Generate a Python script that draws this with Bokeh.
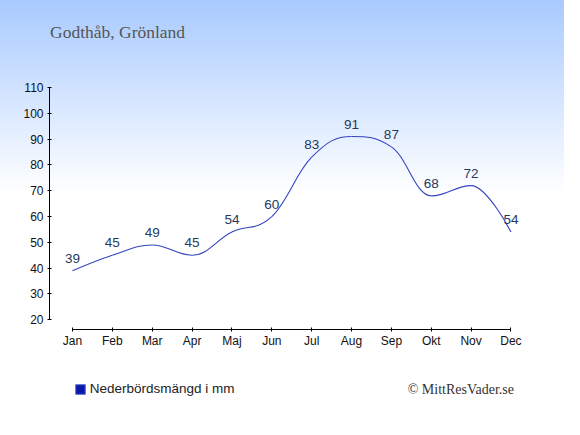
from bokeh.plotting import figure
from bokeh.layouts import column
from bokeh.models import (Range1d, FixedTicker, Label, Legend, LegendItem,
                          ColumnDataSource, InlineStyleSheet)
from bokeh.core.properties import value
from bokeh.embed import file_html
from bokeh.resources import INLINE

months = ["Jan", "Feb", "Mar", "Apr", "Maj", "Jun", "Jul", "Aug", "Sep", "Okt", "Nov", "Dec"]
precip = [39, 45, 49, 45, 54, 60, 83, 91, 87, 68, 72, 54]
y_ticks = [20, 30, 40, 50, 60, 70, 80, 90, 100, 110]
title_text = "Godthåb, Grönland"
legend_text = "Nederbördsmängd i mm"
credit_text = "© MittResVader.se"

xs = list(range(len(months)))
W = 564
H_HEAD, H_MAIN, H_FOOT = 60, 300, 59
BL, BR = 49, 34          # shared left / right borders (frames are aligned in a column)
FR = W - BR              # frame right edge in pixels


# Spline control points (Highcharts-style smoothing) computed from the data
def spline_segments(x, y, smoothing=1.5):
    n = len(x)
    lcx, lcy, rcx, rcy = list(x), list(y), list(x), list(y)
    denom = smoothing + 1
    for i in range(1, n - 1):
        px, py = x[i], y[i]
        lx, ly = x[i - 1], y[i - 1]
        nx, ny = x[i + 1], y[i + 1]
        a_x = (smoothing * px + lx) / denom
        a_y = (smoothing * py + ly) / denom
        b_x = (smoothing * px + nx) / denom
        b_y = (smoothing * py + ny) / denom
        if b_x != a_x:
            corr = ((b_y - a_y) * (b_x - px)) / (b_x - a_x) + py - b_y
            a_y += corr
            b_y += corr
        if a_y > ly and a_y > py:
            a_y = max(ly, py)
            b_y = 2 * py - a_y
        elif a_y < ly and a_y < py:
            a_y = min(ly, py)
            b_y = 2 * py - a_y
        if b_y > ny and b_y > py:
            b_y = max(ny, py)
            a_y = 2 * py - b_y
        elif b_y < ny and b_y < py:
            b_y = min(ny, py)
            a_y = 2 * py - b_y
        lcx[i], lcy[i], rcx[i], rcy[i] = a_x, a_y, b_x, b_y
    seg = dict(x0=[], y0=[], x1=[], y1=[], cx0=[], cy0=[], cx1=[], cy1=[])
    for i in range(1, n):
        seg["x0"].append(x[i - 1]); seg["y0"].append(y[i - 1])
        seg["x1"].append(x[i]); seg["y1"].append(y[i])
        seg["cx0"].append(rcx[i - 1]); seg["cy0"].append(rcy[i - 1])
        seg["cx1"].append(lcx[i]); seg["cy1"].append(lcy[i])
    return seg


def plain(fig):
    fig.background_fill_alpha = 0
    fig.border_fill_alpha = 0
    fig.outline_line_color = None
    fig.grid.visible = False
    return fig


def strip(h):
    # a panel whose data coordinates equal pixel coordinates of the page
    return plain(figure(width=W, height=h, output_backend="svg", toolbar_location=None,
                        x_range=Range1d(BL, FR), y_range=Range1d(0, h),
                        x_axis_type=None, y_axis_type=None,
                        min_border_left=BL, min_border_right=BR,
                        min_border_top=0, min_border_bottom=0))


# ---- header with title ----
head = strip(H_HEAD)
head.add_layout(Label(x=49.5, y=H_HEAD - 31, text=title_text, text_baseline="alphabetic",
                      text_font="Liberation Serif", text_font_size="17.5px",
                      text_color="#555555"))

# ---- main chart ----
px_per_month = 39.86
x_start = -(72 - BL) / px_per_month
x_end = x_start + (FR - BL) / px_per_month
p = plain(figure(width=W, height=H_MAIN, output_backend="svg", toolbar_location=None,
                 x_range=Range1d(x_start, x_end), y_range=Range1d(16.24, 110),
                 min_border_left=BL, min_border_right=BR, min_border_top=27,
                 min_border_bottom=31))

seg = spline_segments(xs, precip)
p.bezier(x0="x0", y0="y0", x1="x1", y1="y1", cx0="cx0", cy0="cy0", cx1="cx1", cy1="cy1",
         source=ColumnDataSource(seg), line_color="#3444c0", line_width=1.1)

p.text(x=xs, y=precip, text=[str(v) for v in precip], text_align="center",
       text_baseline="bottom", y_offset=-8, text_color="#253a5e",
       text_font=value("Liberation Sans"), text_font_size="13.5px")

p.xaxis.ticker = FixedTicker(ticks=xs)
p.xaxis.major_label_overrides = {i: m for i, m in enumerate(months)}
p.xaxis.bounds = (0, 11)
p.yaxis.ticker = FixedTicker(ticks=y_ticks)
p.yaxis.bounds = (20, 110)
for ax in (p.xaxis, p.yaxis):
    ax.axis_line_color = "black"
    ax.major_tick_line_color = "black"
    ax.major_tick_in = 2
    ax.major_tick_out = 2
    ax.minor_tick_line_color = None
    ax.major_label_text_font = "Liberation Sans"
    ax.major_label_text_font_size = "12px"
    ax.major_label_text_color = "#111111"
    ax.major_label_standoff = 4
p.xaxis.major_label_standoff = 2

# ---- footer with legend and credit ----
foot = strip(H_FOOT)
# legend key (zero-size, outside the visible frame; only its legend swatch shows)
sq = foot.quad(left=[0], right=[0], top=[0], bottom=[0],
               fill_color="#0a1aa8", line_color="#5a6ad0")
legend = Legend(items=[LegendItem(label=legend_text, renderers=[sq])],
                location=(73.7 - BL, 23), padding=0, spacing=0, margin=0,
                glyph_width=12, glyph_height=12, label_height=12, label_standoff=4,
                label_text_font="Liberation Sans", label_text_font_size="13.5px",
                label_text_color="#222222", border_line_color=None, background_fill_alpha=0)
foot.add_layout(legend, "center")
foot.add_layout(Label(x=513.5, y=H_FOOT - 29, text=credit_text, text_align="right",
                      text_baseline="alphabetic", text_font="Liberation Serif",
                      text_font_size="14px", text_color="#333333"))

css = InlineStyleSheet(css=":host { background: linear-gradient(to bottom, #a8caff 0px, #ffffff 193px); }")
layout = column(head, p, foot, spacing=0, stylesheets=[css])

open("out.html", "w").write(file_html(layout, INLINE))
